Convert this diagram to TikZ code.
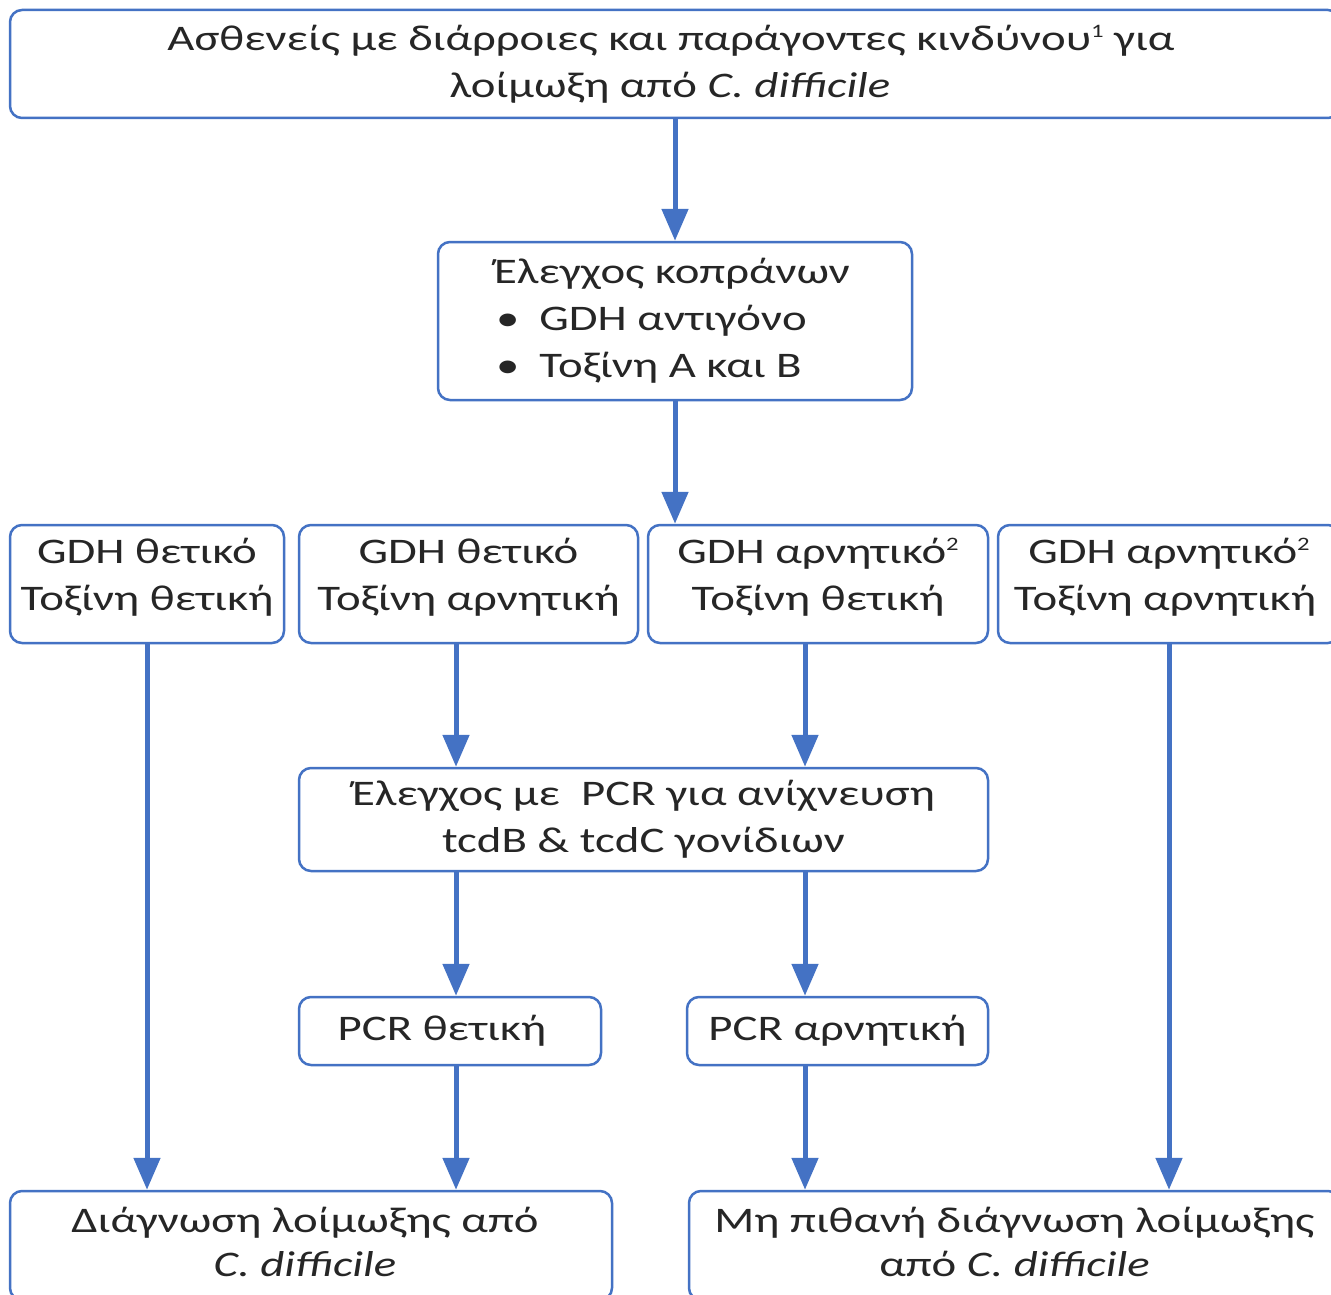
\documentclass[tikz,border=0pt]{standalone}
\usepackage{fontspec}
\setmainfont[FakeStretch=1.3]{Carlito}
\usetikzlibrary{arrows.meta}
\definecolor{bl}{RGB}{68,114,196}
\newcommand{\upby}[1]{\vphantom{g}\\[#1]\mbox{}}
\newcommand{\supnum}[1]{\raisebox{13pt}{\fontsize{19}{19}\selectfont #1}}
\begin{document}
\begin{tikzpicture}[x=1pt,y=-1pt,
  box/.style={draw=bl, line width=2.5pt, rounded corners=12pt, align=center, inner sep=0pt,
    font=\fontsize{36}{47}\selectfont, text=black!85},
  arr/.style={draw=bl, line width=5pt, -{Triangle[length=32pt,width=26pt]}}]
\fill[white] (0,0) rectangle (1331,1295);
\useasboundingbox (0,0) rectangle (1331,1295);
\node[box, minimum width=1330pt, minimum height=108pt] (top) at (675,64)
  {Ασθενείς με διάρροιες και παράγοντες κινδύνου\supnum{1} για\hspace*{8pt}\\ λοίμωξη από \textit{C. difficile}\hspace*{10pt}};
\node[box, minimum width=474pt, minimum height=158pt, align=left] (test) at (675,321)
  {Έλεγχος κοπράνων\hspace*{6pt}\\\hspace*{2pt}•\hspace{20pt}GDH αντιγόνο\\\hspace*{2pt}•\hspace{20pt}Τοξίνη Α και Β};
\node[box, minimum width=274pt, minimum height=118pt] (A) at (147,584) {GDH θετικό\\Τοξίνη θετική\upby{-28pt}};
\node[box, minimum width=339pt, minimum height=118pt] (B) at (468.5,584) {GDH θετικό\\Τοξίνη αρνητική\upby{-28pt}};
\node[box, minimum width=340pt, minimum height=118pt] (C) at (818,584) {GDH αρνητικό\supnum{2}\\Τοξίνη θετική\upby{-28pt}};
\node[box, minimum width=342pt, minimum height=118pt] (D) at (1169,584) {GDH αρνητικό\supnum{2}\\Τοξίνη αρνητική\hspace*{8pt}\upby{-28pt}};
\node[box, minimum width=689pt, minimum height=103pt] (pcr) at (643.5,819.5) {Έλεγχος με\ \ PCR για ανίχνευση\\tcdB \& tcdC γονίδιων};
\node[box, minimum width=302pt, minimum height=68pt] (pp) at (450,1031) {PCR θετική\hspace*{16pt}};
\node[box, minimum width=301pt, minimum height=68pt] (pn) at (837.5,1031) {PCR αρνητική};
\node[box, minimum width=602pt, minimum height=109pt] (dl) at (311,1245.5) {Διάγνωση λοίμωξης από\hspace*{12pt}\\[-3pt]\textit{C. difficile}\hspace*{12pt}\upby{-40pt}};
\node[box, minimum width=651pt, minimum height=109pt] (dr) at (1014.5,1245.5) {Μη πιθανή διάγνωση λοίμωξης\\[-3pt]από \textit{C. difficile}\upby{-40pt}};
\coordinate (xB) at (456,0);
\coordinate (xC) at (805,0);
\draw[arr] (top.south) -- (test.north);
\draw[arr] (test.south) -- (test.south |- C.north);
\draw[arr] (A.south) -- (A.south |- dl.north);
\draw[arr] (D.south) -- (D.south |- dr.north);
\draw[arr] (B.south -| xB) -- (pcr.north -| xB);
\draw[arr] (pcr.south -| xB) -- (pp.north -| xB);
\draw[arr] (pp.south -| xB) -- (dl.north -| xB);
\draw[arr] (C.south -| xC) -- (pcr.north -| xC);
\draw[arr] (pcr.south -| xC) -- (pn.north -| xC);
\draw[arr] (pn.south -| xC) -- (dr.north -| xC);
\end{tikzpicture}
\end{document}
